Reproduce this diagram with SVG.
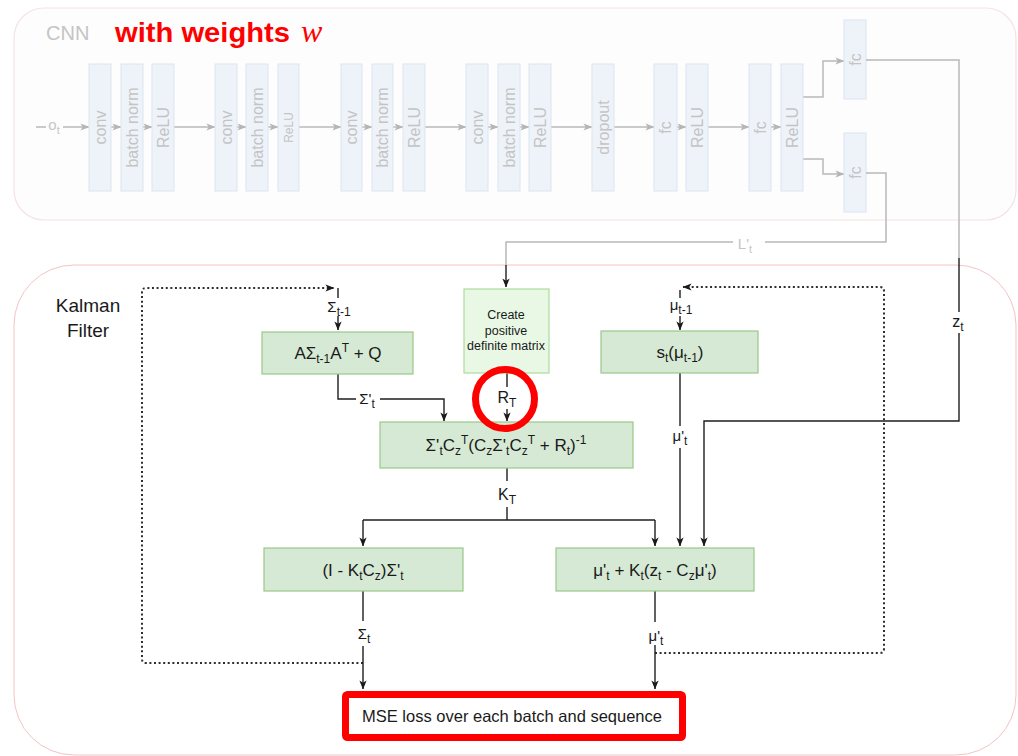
<svg xmlns="http://www.w3.org/2000/svg" width="1018" height="756" viewBox="0 0 1018 756">
  <style>
    .frame-cnn { fill:#fdfdfd; stroke:#f6e2e2; stroke-width:1.2; }
    .frame-kf { fill:#ffffff; stroke:#f4c4c4; stroke-width:1; }
    .cbox { fill:#eef3fa; stroke:#dce5f1; stroke-width:1; }
    .ctxt { font-family:"Liberation Sans", Arial, sans-serif; font-size:16px; fill:#c4c4c4; text-anchor:middle; }
    .cline { stroke:#b8b8b8; stroke-width:1.5; fill:none; }
    .kbox { fill:#d6e9d4; stroke:#98c887; stroke-width:1.2; }
    .pbox { fill:#e9f8e5; stroke:#acdc9c; stroke-width:1.2; }
    .kline { stroke:#1e1e1e; stroke-width:1.4; fill:none; }
    .dot { stroke:#2e2e2e; stroke-width:2; stroke-dasharray:2 2.6; fill:none; }
    .ktxt { font-family:"Liberation Sans", Arial, sans-serif; font-size:17px; fill:#1a1a1a; text-anchor:middle; }
    .lbl { font-family:"Liberation Sans", Arial, sans-serif; font-size:16px; fill:#1a1a1a; text-anchor:middle; }
    .g15 { font-size:15px; }
    .sm { font-size:12px; }
    .note { font-size:12.5px; }
    .glbl { font-family:"Liberation Sans", Arial, sans-serif; font-size:15px; fill:#c6c6c6; text-anchor:middle; }
    .bg { fill:#ffffff; }
  </style>
  <defs>
    <marker id="ak" viewBox="0 0 10 10" refX="9.5" refY="5" markerWidth="9" markerHeight="9" markerUnits="userSpaceOnUse" orient="auto">
      <path d="M0,1 L10,5 L0,9 L2.5,5 z" fill="#1a1a1a"/>
    </marker>
    <marker id="ag" viewBox="0 0 10 10" refX="9.5" refY="5" markerWidth="9" markerHeight="9" markerUnits="userSpaceOnUse" orient="auto">
      <path d="M0,1 L10,5 L0,9 L2.5,5 z" fill="#b5b5b5"/>
    </marker>
  </defs>

  <!-- containers -->
  <g id="cnn-frame">
    <rect class="frame-cnn" x="14" y="8" width="1002" height="212" rx="30"/>
    <text x="46" y="40" font-family="Liberation Sans, Arial, sans-serif" font-size="20" fill="#c4c4c4">CNN</text>
    <text x="115" y="42" font-family="Liberation Sans, Arial, sans-serif" font-size="28" font-weight="bold" fill="#ff0000" textLength="175" lengthAdjust="spacingAndGlyphs">with weights</text>
    <text x="301" y="42" font-family="Liberation Serif, Times New Roman, serif" font-size="32" font-style="italic" fill="#ff0000">w</text>
  </g>
  <g id="kf-frame">
    <rect class="frame-kf" x="14" y="265" width="1002" height="490" rx="60"/>
    <text x="88" y="312" font-family="Liberation Sans, Arial, sans-serif" font-size="19" fill="#1a1a1a" text-anchor="middle">Kalman</text>
    <text x="88" y="337" font-family="Liberation Sans, Arial, sans-serif" font-size="19" fill="#1a1a1a" text-anchor="middle">Filter</text>
  </g>

  <!-- CNN connectors -->
  <g id="cnn-connectors">
    <path class="cline" d="M36,127 H46"/>
    <path class="cline" d="M63,127 H89" marker-end="url(#ag)"/>
    <path class="cline" d="M111,127 H121" marker-end="url(#ag)"/>
    <path class="cline" d="M143,127 H152" marker-end="url(#ag)"/>
    <path class="cline" d="M174,127 H215" marker-end="url(#ag)"/>
    <path class="cline" d="M237,127 H246" marker-end="url(#ag)"/>
    <path class="cline" d="M268,127 H278" marker-end="url(#ag)"/>
    <path class="cline" d="M299,127 H341" marker-end="url(#ag)"/>
    <path class="cline" d="M362,127 H372" marker-end="url(#ag)"/>
    <path class="cline" d="M393,127 H403" marker-end="url(#ag)"/>
    <path class="cline" d="M425,127 H466" marker-end="url(#ag)"/>
    <path class="cline" d="M488,127 H498" marker-end="url(#ag)"/>
    <path class="cline" d="M520,127 H529" marker-end="url(#ag)"/>
    <path class="cline" d="M551,127 H592" marker-end="url(#ag)"/>
    <path class="cline" d="M614,127 H654" marker-end="url(#ag)"/>
    <path class="cline" d="M677,127 H686" marker-end="url(#ag)"/>
    <path class="cline" d="M708,127 H749" marker-end="url(#ag)"/>
    <path class="cline" d="M771,127 H781" marker-end="url(#ag)"/>
    <path class="cline" d="M803,97 H823 V61 H844" marker-end="url(#ag)"/>
    <path class="cline" d="M803,159 H823 V174 H844" marker-end="url(#ag)"/>
    <text class="glbl" x="54" y="130">o<tspan dy="4" font-size="11">t</tspan></text>
  </g>

  <!-- CNN layers -->
  <g id="cnn-layers">
    <g id="l1"><rect class="cbox" x="89" y="64" width="22" height="127"/><text class="ctxt" transform="rotate(-90 100 127.5)" x="100" y="133">conv</text></g>
    <g id="l2"><rect class="cbox" x="121" y="64" width="22" height="127"/><text class="ctxt" transform="rotate(-90 132 127.5)" x="132" y="133">batch norm</text></g>
    <g id="l3"><rect class="cbox" x="152" y="64" width="22" height="127"/><text class="ctxt" transform="rotate(-90 163 127.5)" x="163" y="133">ReLU</text></g>
    <g id="l4"><rect class="cbox" x="215" y="64" width="22" height="127"/><text class="ctxt" transform="rotate(-90 226 127.5)" x="226" y="133">conv</text></g>
    <g id="l5"><rect class="cbox" x="246" y="64" width="22" height="127"/><text class="ctxt" transform="rotate(-90 257 127.5)" x="257" y="133">batch norm</text></g>
    <g id="l6"><rect class="cbox" x="278" y="64" width="21" height="127"/><text class="ctxt" transform="rotate(-90 288.5 127.5)" x="288.5" y="132" style="font-size:12px">ReLU</text></g>
    <g id="l7"><rect class="cbox" x="341" y="64" width="21" height="127"/><text class="ctxt" transform="rotate(-90 351.5 127.5)" x="351.5" y="133">conv</text></g>
    <g id="l8"><rect class="cbox" x="372" y="64" width="21" height="127"/><text class="ctxt" transform="rotate(-90 382.5 127.5)" x="382.5" y="133">batch norm</text></g>
    <g id="l9"><rect class="cbox" x="403" y="64" width="22" height="127"/><text class="ctxt" transform="rotate(-90 414 127.5)" x="414" y="133">ReLU</text></g>
    <g id="l10"><rect class="cbox" x="466" y="64" width="22" height="127"/><text class="ctxt" transform="rotate(-90 477 127.5)" x="477" y="133">conv</text></g>
    <g id="l11"><rect class="cbox" x="498" y="64" width="22" height="127"/><text class="ctxt" transform="rotate(-90 509 127.5)" x="509" y="133">batch norm</text></g>
    <g id="l12"><rect class="cbox" x="529" y="64" width="22" height="127"/><text class="ctxt" transform="rotate(-90 540 127.5)" x="540" y="133">ReLU</text></g>
    <g id="l13"><rect class="cbox" x="592" y="64" width="22" height="127"/><text class="ctxt" transform="rotate(-90 603 127.5)" x="603" y="133">dropout</text></g>
    <g id="l14"><rect class="cbox" x="654" y="64" width="23" height="127"/><text class="ctxt" transform="rotate(-90 665.5 127.5)" x="665.5" y="133">fc</text></g>
    <g id="l15"><rect class="cbox" x="686" y="64" width="22" height="127"/><text class="ctxt" transform="rotate(-90 697 127.5)" x="697" y="133">ReLU</text></g>
    <g id="l16"><rect class="cbox" x="749" y="64" width="22" height="127"/><text class="ctxt" transform="rotate(-90 760 127.5)" x="760" y="133">fc</text></g>
    <g id="l17"><rect class="cbox" x="781" y="64" width="22" height="127"/><text class="ctxt" transform="rotate(-90 792 127.5)" x="792" y="133">ReLU</text></g>
    <g id="fc-z"><rect class="cbox" x="844" y="20" width="22" height="79"/><text class="ctxt" transform="rotate(-90 855 59.5)" x="855" y="65">fc</text></g>
    <g id="fc-l"><rect class="cbox" x="844" y="133" width="22" height="79"/><text class="ctxt" transform="rotate(-90 855 172.5)" x="855" y="178">fc</text></g>
  </g>

  <!-- Kalman filter connectors -->
  <g id="kf-connectors">
    <!-- L't from CNN -->
    <path class="cline" d="M866,173 H886 V242 H506 V265"/>
    <rect class="bg" x="733" y="234" width="32" height="16"/>
    <text class="glbl" x="745" y="249">L'<tspan dy="4" font-size="11">t</tspan></text>
    <path class="kline" d="M506,265 V287" marker-end="url(#ak)"/>
    <!-- z_t from CNN -->
    <path class="cline" d="M866,60 H959 V258"/>
    <path class="kline" d="M959,258 V421 H704 V546" marker-end="url(#ak)"/>
    <rect class="bg" x="950" y="312" width="20" height="21"/>
    <text class="lbl" x="958" y="327">z<tspan dy="4" class="sm">t</tspan></text>

    <!-- covariance loop (dotted) -->
    <path class="dot" d="M363,663 H146 Q142,663 142,659 V292 Q142,288 146,288 H334" marker-end="url(#ak)"/>
    <path class="kline" d="M338,288 V330" marker-end="url(#ak)"/>
    <rect class="bg" x="326" y="298" width="28" height="18"/>
    <text class="lbl g15" x="339" y="312">Σ<tspan dy="4" class="sm">t-1</tspan></text>

    <!-- mean loop (dotted) -->
    <path class="dot" d="M655,653 H880 Q884,653 884,649 V291 Q884,287 880,287 H683" marker-end="url(#ak)"/>
    <path class="kline" d="M680,290 V330" marker-end="url(#ak)"/>
    <rect class="bg" x="666" y="298" width="30" height="18"/>
    <text class="lbl g15" x="681" y="310">μ<tspan dy="4" class="sm">t-1</tspan></text>

    <!-- Σ't -->
    <path class="kline" d="M338,374 V399 H444 V421" marker-end="url(#ak)"/>
    <rect class="bg" x="356" y="390" width="24" height="18"/>
    <text class="lbl g15" x="367" y="404">Σ'<tspan dy="4" class="sm">t</tspan></text>

    <!-- R_T -->
    <path class="kline" d="M507,373 V421" marker-end="url(#ak)"/>
    <rect class="bg" x="494" y="387" width="26" height="22"/>
    <text class="lbl" x="507" y="403">R<tspan dy="4" class="sm">T</tspan></text>

    <!-- μ't from state transition -->
    <path class="kline" d="M680,373 V546" marker-end="url(#ak)"/>
    <rect class="bg" x="669" y="426" width="24" height="22"/>
    <text class="lbl g15" x="680" y="441">μ'<tspan dy="4" class="sm">t</tspan></text>

    <!-- K_T split -->
    <path class="kline" d="M507,468 V520"/>
    <path class="kline" d="M363,520 H655"/>
    <path class="kline" d="M363,520 V546" marker-end="url(#ak)"/>
    <path class="kline" d="M655,520 V546" marker-end="url(#ak)"/>
    <rect class="bg" x="494" y="481" width="27" height="26"/>
    <text class="lbl" x="507" y="500">K<tspan dy="4" class="sm">T</tspan></text>

    <!-- outputs to loss -->
    <path class="kline" d="M363,591 V689" marker-end="url(#ak)"/>
    <rect class="bg" x="352" y="621" width="24" height="25"/>
    <text class="lbl g15" x="364" y="639">Σ<tspan dy="4" class="sm">t</tspan></text>
    <path class="kline" d="M655,591 V689" marker-end="url(#ak)"/>
    <rect class="bg" x="643" y="622" width="24" height="23"/>
    <text class="lbl g15" x="656" y="641">μ'<tspan dy="4" class="sm">t</tspan></text>
  </g>

  <!-- Kalman filter nodes -->
  <g id="predict-cov">
    <rect class="kbox" x="262" y="332" width="151" height="42"/>
    <text class="ktxt" x="338" y="359">AΣ<tspan dy="4" class="sm">t-1</tspan><tspan dy="-4">A</tspan><tspan dy="-7" class="sm">T</tspan><tspan dy="7"> + Q</tspan></text>
  </g>
  <g id="pd-matrix">
    <rect class="pbox" x="464" y="289" width="85" height="84"/>
    <text class="ktxt note" x="506" y="319">Create</text>
    <text class="ktxt note" x="506" y="335">positive</text>
    <text class="ktxt note" x="506" y="350">definite matrix</text>
  </g>
  <g id="predict-mean">
    <rect class="kbox" x="601" y="331" width="157" height="42"/>
    <text class="ktxt" x="680" y="358">s<tspan dy="4" class="sm">t</tspan><tspan dy="-4">(μ</tspan><tspan dy="4" class="sm">t-1</tspan><tspan dy="-4">)</tspan></text>
  </g>
  <g id="gain">
    <rect class="kbox" x="380" y="422" width="253" height="46"/>
    <text class="ktxt" x="506" y="451">Σ'<tspan dy="4" class="sm">t</tspan><tspan dy="-4">C</tspan><tspan dy="4" class="sm">z</tspan><tspan dy="-11" class="sm">T</tspan><tspan dy="7">(C</tspan><tspan dy="4" class="sm">z</tspan><tspan dy="-4">Σ'</tspan><tspan dy="4" class="sm">t</tspan><tspan dy="-4">C</tspan><tspan dy="4" class="sm">z</tspan><tspan dy="-11" class="sm">T</tspan><tspan dy="7"> + R</tspan><tspan dy="4" class="sm">t</tspan><tspan dy="-4">)</tspan><tspan dy="-7" class="sm">-1</tspan></text>
  </g>
  <g id="update-cov">
    <rect class="kbox" x="264" y="548" width="199" height="43"/>
    <text class="ktxt" x="363" y="576">(I - K<tspan dy="4" class="sm">t</tspan><tspan dy="-4">C</tspan><tspan dy="4" class="sm">z</tspan><tspan dy="-4">)Σ'</tspan><tspan dy="4" class="sm">t</tspan></text>
  </g>
  <g id="update-mean">
    <rect class="kbox" x="556" y="548" width="198" height="43"/>
    <text class="ktxt" x="655" y="576">μ'<tspan dy="4" class="sm">t</tspan><tspan dy="-4"> + K</tspan><tspan dy="4" class="sm">t</tspan><tspan dy="-4">(z</tspan><tspan dy="4" class="sm">t</tspan><tspan dy="-4"> - C</tspan><tspan dy="4" class="sm">z</tspan><tspan dy="-4">μ'</tspan><tspan dy="4" class="sm">t</tspan><tspan dy="-4">)</tspan></text>
  </g>
  <g id="loss">
    <rect x="345.5" y="694.5" width="337" height="43" rx="2" fill="#ffffff" stroke="#ff0000" stroke-width="7"/>
    <text class="ktxt" x="512" y="722" style="font-size:16.5px">MSE loss over each batch and sequence</text>
  </g>

  <!-- highlight on R_T -->
  <g id="rt-highlight">
    <circle cx="505" cy="399" r="29.5" fill="none" stroke="#ff0000" stroke-width="7"/>
  </g>
</svg>
